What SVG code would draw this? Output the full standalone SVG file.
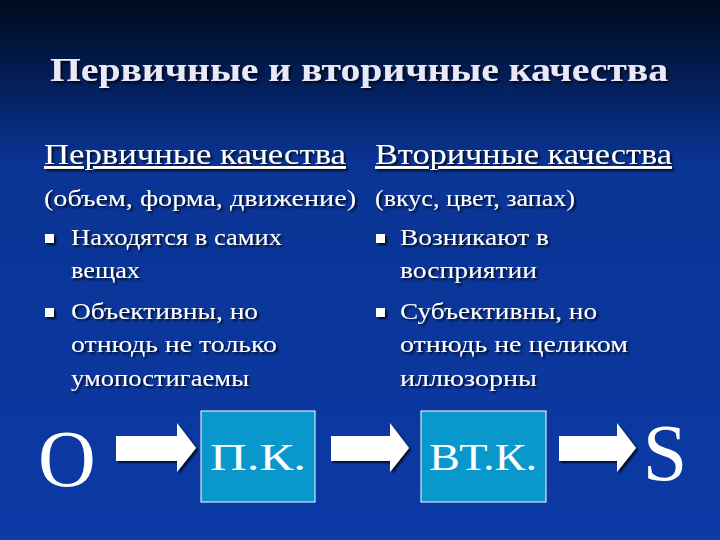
<svg xmlns="http://www.w3.org/2000/svg" width="720" height="540" viewBox="0 0 720 540">
<defs>
<linearGradient id="bg" x1="0" y1="0" x2="0" y2="1">
<stop offset="0" stop-color="#000a1e"/>
<stop offset="0.12" stop-color="#021a4c"/>
<stop offset="0.3" stop-color="#0a3494"/>
<stop offset="1" stop-color="#0c3aa6"/>
</linearGradient>
<filter id="sh" x="-10%" y="-10%" width="130%" height="140%"><feDropShadow dx="2" dy="2" stdDeviation="1" flood-color="#000" flood-opacity="0.8"/></filter>
</defs>
<style>
text{font-family:"Liberation Serif","Times New Roman",serif;fill:#fff}
.t{font-size:34px;font-weight:bold;fill:#e8e8f8}
.h{font-size:29px;text-decoration:underline}
.b{font-size:23px}
.bul{fill:#fff}
.box{fill:#0a98cc;stroke:#fff;stroke-width:1}
.a{fill:#fff;filter:url(#sh)}
</style>
<rect width="720" height="540" fill="url(#bg)"/>
<text class="t" x="50" y="81" textLength="618" lengthAdjust="spacingAndGlyphs" filter="url(#sh)">Первичные и вторичные качества</text>
<g filter="url(#sh)">
<text class="h" x="44" y="164" textLength="302" lengthAdjust="spacingAndGlyphs">Первичные качества</text>
<text class="h" x="375" y="164" textLength="297" lengthAdjust="spacingAndGlyphs">Вторичные качества</text>
</g>
<g filter="url(#sh)">
<text class="b" x="44" y="206" textLength="312" lengthAdjust="spacingAndGlyphs">(объем, форма, движение)</text>
<rect class="bul" x="45" y="234" width="9" height="9"/>
<text class="b" x="71" y="245" textLength="211" lengthAdjust="spacingAndGlyphs">Находятся в самих</text>
<text class="b" x="71" y="278" textLength="69" lengthAdjust="spacingAndGlyphs">вещах</text>
<rect class="bul" x="45" y="308" width="9" height="9"/>
<text class="b" x="71" y="319" textLength="187" lengthAdjust="spacingAndGlyphs">Объективны, но</text>
<text class="b" x="71" y="352" textLength="206" lengthAdjust="spacingAndGlyphs">отнюдь не только</text>
<text class="b" x="71" y="386" textLength="178" lengthAdjust="spacingAndGlyphs">умопостигаемы</text>
<text class="b" x="375" y="206" textLength="200" lengthAdjust="spacingAndGlyphs">(вкус, цвет, запах)</text>
<rect class="bul" x="376" y="234" width="9" height="9"/>
<text class="b" x="400" y="245" textLength="149" lengthAdjust="spacingAndGlyphs">Возникают в</text>
<text class="b" x="400" y="278" textLength="137" lengthAdjust="spacingAndGlyphs">восприятии</text>
<rect class="bul" x="376" y="308" width="9" height="9"/>
<text class="b" x="400" y="319" textLength="197" lengthAdjust="spacingAndGlyphs">Субъективны, но</text>
<text class="b" x="400" y="352" textLength="228" lengthAdjust="spacingAndGlyphs">отнюдь не целиком</text>
<text class="b" x="400" y="386" textLength="137" lengthAdjust="spacingAndGlyphs">иллюзорны</text>
</g>
<g id="nodeO"><text x="67" y="486" font-size="80" text-anchor="middle">O</text></g>
<g id="nodePK"><rect class="box" x="201" y="411" width="114" height="91"/><text x="258" y="470" font-size="38" text-anchor="middle" textLength="96" lengthAdjust="spacingAndGlyphs">П.К.</text></g>
<g id="nodeVTK"><rect class="box" x="421" y="411" width="125" height="91"/><text x="483" y="470" font-size="38" text-anchor="middle" textLength="108" lengthAdjust="spacingAndGlyphs">ВТ.К.</text></g>
<g id="nodeS"><text x="665" y="480" font-size="80" text-anchor="middle">S</text></g>
<g id="connectors">
<path class="a" d="M116,436 H177 V423 L196,448 L177,472 V461 H116 Z"/>
<path class="a" d="M331,436 H390 V423 L409,448 L390,472 V461 H331 Z"/>
<path class="a" d="M559,436 H617 V423 L636,448 L617,472 V461 H559 Z"/>
</g>
</svg>
